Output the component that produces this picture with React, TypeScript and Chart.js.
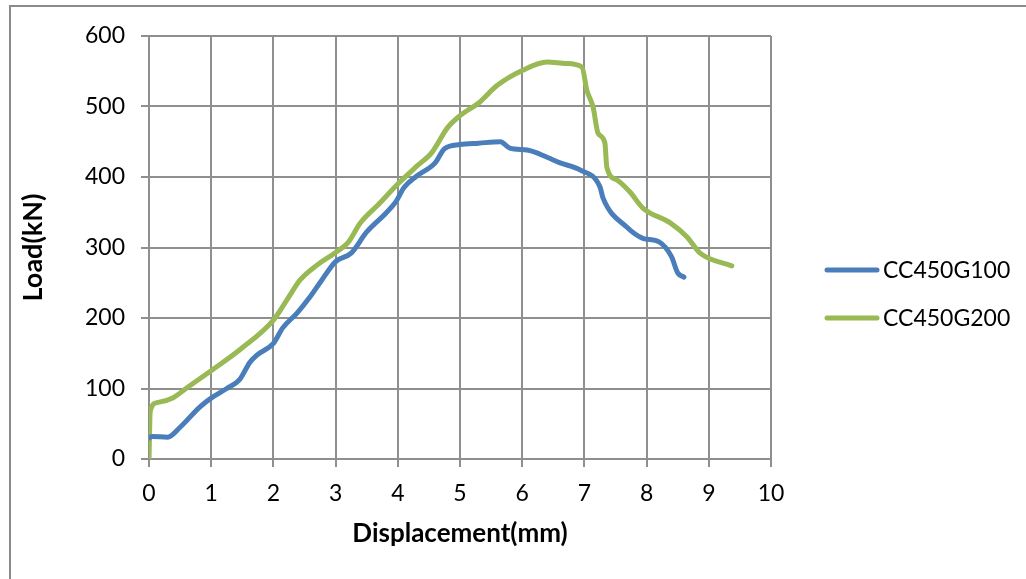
import React, { useEffect, useRef } from "react";
import { Chart, registerables } from "chart.js";

Chart.register(...registerables);

const seriesNames = ["CC450G100", "CC450G200"];
const seriesColors = ["#4A7EBB", "#98B954"];

const blueX = [0, 0.05, 0.3, 0.5, 0.82, 1.01, 1.25, 1.46, 1.62, 1.73, 2.0, 2.15, 2.38, 2.59, 2.78, 3.0, 3.25, 3.5, 3.8, 3.97, 4.1, 4.3, 4.6, 4.75, 5.0, 5.3, 5.65, 5.8, 6.1, 6.4, 6.61, 6.93, 7.25, 7.3, 7.68, 7.94, 8.2, 8.4, 8.5, 8.6];
const blueY = [30, 32, 31, 45, 74, 87, 100, 113, 137, 147, 164, 186, 207, 230, 254, 280, 292, 322, 348, 365, 385, 401, 420, 440, 446, 448, 450, 441, 438, 428, 420, 410, 386, 370, 329, 313, 308, 287, 264, 258];

const greenX = [0, 0.02, 0.13, 0.39, 0.61, 1.01, 1.46, 2.0, 2.22, 2.43, 2.7, 3.0, 3.2, 3.4, 3.7, 4.0, 4.3, 4.55, 4.8, 5.0, 5.3, 5.6, 6.0, 6.4, 6.7, 6.96, 7.04, 7.14, 7.22, 7.33, 7.36, 7.52, 7.73, 7.94, 8.38, 8.65, 8.86, 9.37];
const greenY = [0, 68, 80, 87, 101, 126, 155, 197, 226, 254, 275, 293, 307, 335, 362, 390, 415, 435, 470, 487, 505, 530, 551, 563, 561, 556, 523, 499, 462, 448, 414, 396, 379, 356, 335, 315, 292, 274];

const xTitle = "Displacement(mm)";
const yTitle = "Load(kN)";

const FONT = "Lato, 'Open Sans', sans-serif";
const GRID = "#8f8f8f";

export default function App() {
  const ref = useRef<HTMLCanvasElement | null>(null);
  useEffect(() => {
    if (!ref.current) return;
    const toPts = (xs: number[], ys: number[]) => xs.map((x, i) => ({ x, y: ys[i] }));
    const framePlugin = {
      id: "frame",
      beforeDraw(chart: any) {
        const ctx = chart.ctx;
        ctx.save();
        ctx.fillStyle = "#ffffff";
        ctx.fillRect(0, 0, chart.width, chart.height);
        ctx.strokeStyle = "#8a8a8a";
        ctx.lineWidth = 2;
        ctx.strokeRect(10, 6, 1030, 620);
        ctx.restore();
      },
      afterDraw(chart: any) {
        const ctx = chart.ctx;
        ctx.save();
        const ys = [270, 318];
        chart.data.datasets.forEach((ds: any, i: number) => {
          ctx.strokeStyle = ds.borderColor;
          ctx.lineWidth = 5;
          ctx.lineCap = "round";
          ctx.beginPath();
          ctx.moveTo(827, ys[i]);
          ctx.lineTo(877, ys[i]);
          ctx.stroke();
          ctx.fillStyle = "#000";
          ctx.font = `23px ${FONT}`;
          ctx.textBaseline = "middle";
          ctx.textAlign = "left";
          ctx.fillText(ds.label, 883, ys[i] + 1);
        });
        ctx.restore();
      },
    };
    const chart = new Chart(ref.current, {
      type: "line",
      data: {
        datasets: [
          {
            label: seriesNames[0],
            data: toPts(blueX, blueY),
            borderColor: seriesColors[0],
            backgroundColor: seriesColors[0],
            borderWidth: 5,
            pointRadius: 0,
            cubicInterpolationMode: "monotone",
            borderCapStyle: "round",
            borderJoinStyle: "round",
            fill: false,
          },
          {
            label: seriesNames[1],
            data: toPts(greenX, greenY),
            borderColor: seriesColors[1],
            backgroundColor: seriesColors[1],
            borderWidth: 5,
            pointRadius: 0,
            cubicInterpolationMode: "monotone",
            borderCapStyle: "round",
            borderJoinStyle: "round",
            fill: false,
          },
        ],
      },
      options: {
        animation: false,
        responsive: false,
        maintainAspectRatio: false,
        layout: { padding: { left: 0, top: 36, right: 255, bottom: 0 } },
        plugins: { legend: { display: false }, tooltip: { enabled: false } },
        scales: {
          x: {
            type: "linear",
            min: 0,
            max: 10,
            ticks: { stepSize: 1, color: "#000", font: { family: FONT, size: 23 }, padding: 13 },
            grid: { color: GRID, lineWidth: 2, tickLength: 8 },
            border: { color: GRID, width: 2 },
            title: { display: true, text: xTitle, color: "#000", font: { family: FONT, size: 26, weight: "bold" }, padding: { bottom: 30 } },
            afterFit(scale: any) { scale.height = 120; },
          },
          y: {
            type: "linear",
            min: 0,
            max: 600,
            ticks: { stepSize: 100, color: "#000", font: { family: FONT, size: 23 }, padding: 16 },
            grid: { color: GRID, lineWidth: 2, tickLength: 8 },
            border: { color: GRID, width: 2 },
            title: { display: true, text: yTitle, color: "#000", font: { family: FONT, size: 27, weight: "bold" }, padding: { top: 17 } },
            afterFit(scale: any) { scale.width = 149; },
          },
        },
      },
      plugins: [framePlugin],
    } as any);
    return () => chart.destroy();
  }, []);
  return (
    <div style={{ position: "fixed", left: 0, top: 0, width: 1026, height: 579, background: "#fff" }}>
      <canvas ref={ref} width={1026} height={579} style={{ display: "block", width: 1026, height: 579 }} />
    </div>
  );
}
